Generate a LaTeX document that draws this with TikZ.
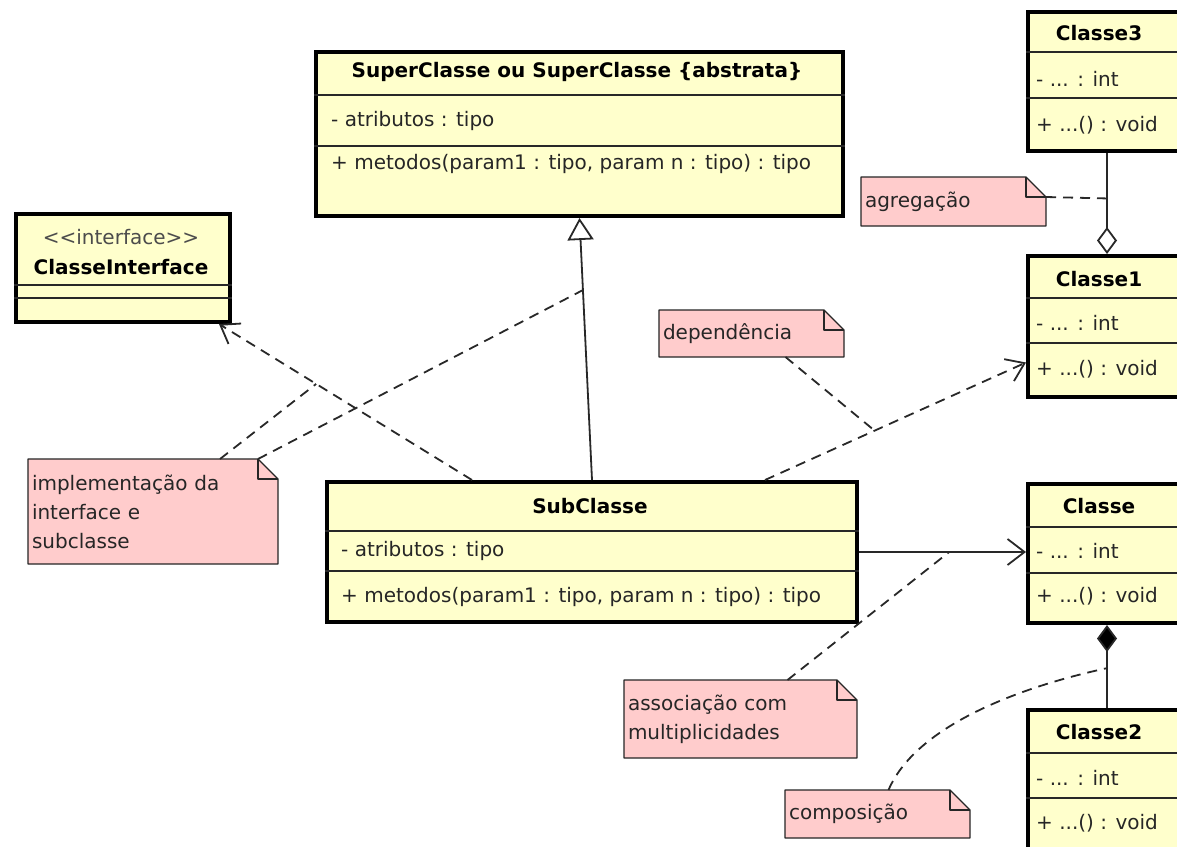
\documentclass[tikz,border=0pt]{standalone}
\usepackage{fontspec}
\setmainfont{DejaVu Sans}
\usepackage{tikz}
\usetikzlibrary{arrows.meta}
\usetikzlibrary{calc}
\usetikzlibrary{backgrounds}
\definecolor{classyellow}{RGB}{255,255,204}
\definecolor{notepink}{RGB}{255,204,204}
\definecolor{linegray}{RGB}{40,40,40}
\newcommand{\umlfont}{\fontsize{20}{29}\selectfont}
\tikzstyle{classbox} = [draw=black,line width=4pt,fill=classyellow,anchor=north west,inner sep=0pt]
\tikzstyle{divider} = [draw=linegray,line width=1.5pt]
\tikzstyle{ctitle} = [font=\umlfont\bfseries,inner sep=0pt]
\tikzstyle{cline} = [anchor=west,inner sep=0pt,text=black!85]
\tikzstyle{notetext} = [anchor=north west,align=left,inner xsep=4pt,inner ysep=0pt,outer sep=0pt,text=black!85]
\tikzstyle{notefill} = [draw=black!85,line width=1.3pt,fill=notepink,line join=round]
\tikzstyle{conn} = [draw=linegray,line width=1.8pt]
\tikzstyle{dashline} = [conn,dash pattern=on 10pt off 7pt]
\newcommand{\notefold}[1]{%
\begin{scope}[on background layer]
\draw[notefill] (#1.south west) -- (#1.north west) -- ([xshift=-20pt]#1.north east) -- ([yshift=-20pt]#1.north east) -- (#1.south east) -- cycle;
\draw[notefill,fill=none] ([xshift=-20pt]#1.north east) |- ([yshift=-20pt]#1.north east);
\end{scope}}

\begin{document}
\begin{tikzpicture}[x=1pt,y=-1pt,font=\umlfont]
\useasboundingbox (0,0) rectangle (1177,846);
\begin{scope}[on background layer]
\fill[white] (0,0) rectangle (1177,846);
\end{scope}

% SuperClasse
\node[classbox,minimum width=527,minimum height=164] (super) at (314,50) {};
\draw[divider] (super.west |- 0,95) -- (super.east |- 0,95);
\draw[divider] (super.west |- 0,146) -- (super.east |- 0,146);
\node[ctitle] (super-t) at (577,72) {SuperClasse ou SuperClasse \{abstrata\}};
\node[cline] (super-a) at (331,121) {- atributos : tipo};
\node[cline] (super-m) at (331,164) {+ metodos(param1 : tipo, param n : tipo) : tipo};

% interface
\node[classbox,minimum width=214,minimum height=108] (iface) at (14,212) {};
\draw[divider] (iface.west |- 0,285) -- (iface.east |- 0,285);
\draw[divider] (iface.west |- 0,298) -- (iface.east |- 0,298);
\node[inner sep=0pt,text=black!70] (iface-s) at (121,237) {{<}{<}interface{>}{>}};
\node[ctitle] (iface-t) at (121,267) {ClasseInterface};

% SubClasse
\node[classbox,minimum width=530,minimum height=140] (sub) at (325,480) {};
\draw[divider] (sub.west |- 0,531) -- (sub.east |- 0,531);
\draw[divider] (sub.west |- 0,571) -- (sub.east |- 0,571);
\node[ctitle] (sub-t) at (590,506) {SubClasse};
\node[cline] (sub-a) at (341,551) {- atributos : tipo};
\node[cline] (sub-m) at (341,597) {+ metodos(param1 : tipo, param n : tipo) : tipo};

% Classe3
\node[classbox,minimum width=158,minimum height=139] (c3) at (1026,10) {};
\draw[divider] (c3.west |- 0,52) -- (c3.east |- 0,52);
\draw[divider] (c3.west |- 0,98) -- (c3.east |- 0,98);
\node[ctitle] (c3-t) at (1099,33) {Classe3};
\node[cline] (c3-a) at (1036,79) {- ... : int};
\node[cline] (c3-m) at (1036,125) {+ ...() : void};

% Classe1
\node[classbox,minimum width=158,minimum height=141] (c1) at (1026,254) {};
\draw[divider] (c1.west |- 0,298) -- (c1.east |- 0,298);
\draw[divider] (c1.west |- 0,343) -- (c1.east |- 0,343);
\node[ctitle] (c1-t) at (1099,279) {Classe1};
\node[cline] (c1-a) at (1036,323) {- ... : int};
\node[cline] (c1-m) at (1036,369) {+ ...() : void};

% Classe
\node[classbox,minimum width=158,minimum height=139] (c) at (1026,482) {};
\draw[divider] (c.west |- 0,527) -- (c.east |- 0,527);
\draw[divider] (c.west |- 0,573) -- (c.east |- 0,573);
\node[ctitle] (c-t) at (1099,506) {Classe};
\node[cline] (c-a) at (1036,551) {- ... : int};
\node[cline] (c-m) at (1036,596) {+ ...() : void};

% Classe2
\node[classbox,minimum width=158,minimum height=152] (c2) at (1026,708) {};
\draw[divider] (c2.west |- 0,753) -- (c2.east |- 0,753);
\draw[divider] (c2.west |- 0,798) -- (c2.east |- 0,798);
\node[ctitle] (c2-t) at (1099,732) {Classe2};
\node[cline] (c2-a) at (1036,778) {- ... : int};
\node[cline] (c2-m) at (1036,823) {+ ...() : void};

% relacoes
\draw[conn,-{Triangle[open,length=22pt,width=26pt]}] (sub.north) -- coordinate[pos=0.725] (genmid) (super.south);
\draw[dashline,-{Straight Barb[length=17pt,width=24pt]}] ([xshift=-120pt]sub.north) -- coordinate[pos=0.616] (realmid) ([xshift=-13pt]iface.south east);
\draw[dashline,-{Straight Barb[length=17pt,width=24pt]}] ([xshift=173pt]sub.north) -- coordinate[pos=0.42] (depmid) ([yshift=-36pt]c1.west);
\draw[conn,-{Straight Barb[length=17pt,width=26pt]}] (sub.east) -- coordinate[pos=0.54] (assocmid) (sub.east -| c.west);
\draw[conn,-{Diamond[open,length=27pt,width=20pt]}] (c3.south) -- coordinate[pos=0.45] (aggmid) (c1.north);
\draw[conn,-{Diamond[fill=black,length=27pt,width=20pt]}] (c2.north) -- coordinate[pos=0.48] (compmid) (c.south);

% notas
\node[notetext,text width=242pt,minimum height=105pt] (nimpl) at (28,459) {implementação da\\interface e\\subclasse};
\notefold{nimpl}
\node[notetext,text width=177pt,minimum height=49pt] (nagr) at (861,177) {agregação};
\notefold{nagr}
\node[notetext,text width=177pt,minimum height=47pt] (ndep) at (659,310) {dependência};
\notefold{ndep}
\node[notetext,text width=225pt,minimum height=78pt] (nassoc) at (624,680) {associação com\\multiplicidades};
\notefold{nassoc}
\node[notetext,text width=177pt,minimum height=48pt] (ncomp) at (785,790) {composição};
\notefold{ncomp}

\draw[dashline] ([xshift=67pt]nimpl.north) -- (realmid);
\draw[dashline] ([xshift=-20pt]nimpl.north east) -- (genmid);
\draw[dashline] ([xshift=34pt]ndep.south) -- (depmid);
\draw[dashline] ([yshift=-20pt]nagr.north east) -- (aggmid);
\draw[dashline] ([xshift=47pt]nassoc.north) -- (assocmid);
\draw[dashline] ([xshift=11pt]ncomp.north) .. controls +(30,-70) and +(-70,15) .. (compmid);

\end{tikzpicture}
\end{document}
